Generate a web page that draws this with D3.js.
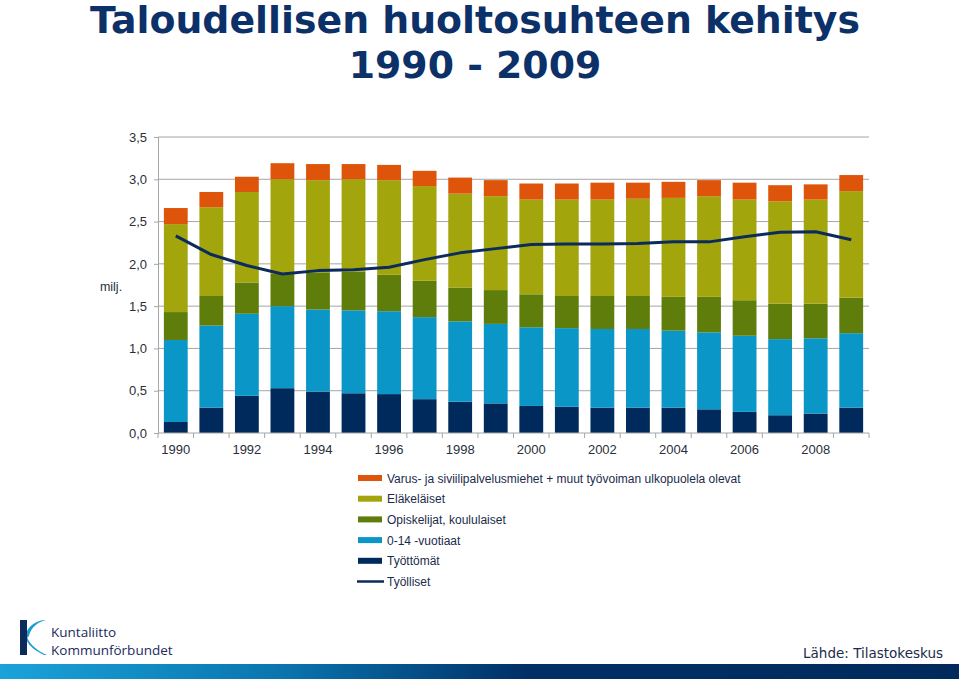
<!DOCTYPE html>
<html><head><meta charset="utf-8">
<script src="https://cdn.jsdelivr.net/npm/d3@7"></script>
<style>
html,body{margin:0;padding:0;background:#fff;}
svg{display:block;}
</style></head>
<body>
<svg id="c" width="959" height="679"></svg>
<script>
const years = [1990,1991,1992,1993,1994,1995,1996,1997,1998,1999,2000,2001,2002,2003,2004,2005,2006,2007,2008,2009];
// stacked segment values (milj.)
const tyottomat   = [0.13,0.30,0.44,0.53,0.49,0.47,0.46,0.40,0.37,0.35,0.32,0.31,0.30,0.30,0.30,0.28,0.25,0.21,0.23,0.30];
const vuotiaat    = [0.97,0.97,0.97,0.97,0.97,0.98,0.98,0.97,0.95,0.94,0.93,0.93,0.93,0.93,0.91,0.91,0.90,0.90,0.89,0.88];
const opiskelijat = [0.33,0.35,0.37,0.38,0.44,0.46,0.43,0.43,0.40,0.40,0.39,0.38,0.39,0.39,0.40,0.42,0.42,0.42,0.41,0.42];
const elakelaiset = [1.04,1.05,1.07,1.12,1.09,1.09,1.12,1.12,1.11,1.11,1.12,1.14,1.14,1.15,1.17,1.19,1.19,1.21,1.23,1.26];
const varus       = [0.19,0.18,0.18,0.19,0.19,0.18,0.18,0.18,0.19,0.19,0.19,0.19,0.20,0.19,0.19,0.19,0.20,0.19,0.18,0.19];
const tyolliset   = [2.33,2.11,1.98,1.88,1.92,1.93,1.96,2.05,2.13,2.18,2.23,2.235,2.235,2.24,2.26,2.26,2.32,2.375,2.38,2.285];
const yTicks = [0,0.5,1,1.5,2,2.5,3,3.5];
const xLabelYears = [1990,1992,1994,1996,1998,2000,2002,2004,2006,2008];

const seriesNames = ["Työttömät","0-14 -vuotiaat","Opiskelijat, koululaiset","Eläkeläiset","Varus- ja siviilipalvelusmiehet + muut työvoiman ulkopuolela olevat"];
const seriesColors = ["#002a5c","#0a96c6","#5f7d0a","#a2a50c","#dd540a"];
const lineName = "Työlliset";
const lineColor = "#0c2b5c";

const svg = d3.select("#c");
const defs = svg.append("defs");

// Title
const titleColor = "#0c3068";
const t1 = svg.append("text").attr("x",475).attr("y",33).attr("text-anchor","middle")
  .attr("font-family","DejaVu Sans").attr("font-weight","bold").attr("font-size",39)
  .attr("fill",titleColor).text("Taloudellisen huoltosuhteen kehitys");
const w = t1.node().getComputedTextLength();
const fs = 39*770/w;
t1.attr("font-size",fs);
svg.append("text").attr("x",475).attr("y",78).attr("text-anchor","middle")
  .attr("font-family","DejaVu Sans").attr("font-weight","bold").attr("font-size",fs)
  .attr("fill",titleColor).text("1990 - 2009");

// Scales
const x = d3.scaleBand().domain(years).range([158,869]).paddingInner(0.33).paddingOuter(0.165);
const y = d3.scaleLinear().domain([0,3.5]).range([433,137]);

// Gridlines
svg.append("g").selectAll("line").data(yTicks.slice(1)).join("line")
  .attr("x1",158).attr("x2",869).attr("y1",d=>y(d)).attr("y2",d=>y(d))
  .attr("stroke","#a6a6a6").attr("stroke-width",1);

// Stack
const data = years.map((yr,i)=>({year:yr, s0:tyottomat[i], s1:vuotiaat[i], s2:opiskelijat[i], s3:elakelaiset[i], s4:varus[i]}));
const stack = d3.stack().keys(["s0","s1","s2","s3","s4"])(data);
svg.append("g").selectAll("g").data(stack).join("g").attr("fill",(d,i)=>seriesColors[i])
  .selectAll("rect").data(d=>d).join("rect")
  .attr("x",d=>x(d.data.year)).attr("width",x.bandwidth())
  .attr("y",d=>y(d[1])).attr("height",d=>y(d[0])-y(d[1]));

// Line
const line = d3.line().x((d,i)=>x(years[i])+x.bandwidth()/2).y(d=>y(d));
svg.append("path").datum(tyolliset).attr("d",line).attr("fill","none")
  .attr("stroke",lineColor).attr("stroke-width",3).attr("stroke-linejoin","round");

// Y axis
const yAxis = d3.axisLeft(y).tickValues(yTicks).tickSize(4).tickFormat(d=>d3.format(".1f")(d).replace(".",","));
const gy = svg.append("g").attr("transform","translate(158,0)").call(yAxis);
gy.select(".domain").attr("stroke","#a6a6a6");
gy.selectAll(".tick line").attr("stroke","#a6a6a6");
gy.selectAll("text").attr("font-family","Liberation Sans, Arial").attr("font-size",13).attr("fill","#2a2f3a").attr("x",-11);

// X axis with ticks on band boundaries
const gx = svg.append("g").attr("transform","translate(0,433)");
gx.append("line").attr("x1",158).attr("x2",869).attr("stroke","#a6a6a6");
const bounds = years.map(yr=>x(yr)-x.step()*x.paddingInner()/2).concat([869]);
gx.selectAll("line.tk").data(bounds).join("line").attr("class","tk")
  .attr("x1",d=>d).attr("x2",d=>d).attr("y1",0).attr("y2",5).attr("stroke","#a6a6a6");
gx.selectAll("text").data(xLabelYears).join("text")
  .attr("x",d=>x(d)+x.bandwidth()/2).attr("y",21).attr("text-anchor","middle")
  .attr("font-family","Liberation Sans, Arial").attr("font-size",13).attr("fill","#2a2f3a").text(d=>d);

// Y label
svg.append("text").attr("x",111).attr("y",291).attr("text-anchor","middle")
  .attr("font-family","Liberation Sans, Arial").attr("font-size",12.5).attr("fill","#2a2f3a").text("milj.");

// Legend
const legendItems = [
  {name:seriesNames[4], color:seriesColors[4], type:"rect"},
  {name:seriesNames[3], color:seriesColors[3], type:"rect"},
  {name:seriesNames[2], color:seriesColors[2], type:"rect"},
  {name:seriesNames[1], color:seriesColors[1], type:"rect"},
  {name:seriesNames[0], color:seriesColors[0], type:"rect"},
  {name:lineName, color:lineColor, type:"line"}
];
const lg = svg.append("g");
legendItems.forEach((it,i)=>{
  const cy = 478 + i*20.7;
  if(it.type==="rect"){
    lg.append("rect").attr("x",358).attr("y",cy-3).attr("width",24).attr("height",6).attr("fill",it.color);
  } else {
    lg.append("line").attr("x1",357).attr("x2",384).attr("y1",cy).attr("y2",cy).attr("stroke",it.color).attr("stroke-width",2.5);
  }
  lg.append("text").attr("x",387).attr("y",cy+4.5).attr("font-family","Liberation Sans, Arial")
    .attr("font-size",12).attr("fill","#1b2b4b").text(it.name);
});

// Bottom gradient band
const grad = defs.append("linearGradient").attr("id","bg").attr("x1","0").attr("x2","1").attr("y1","0").attr("y2","0");
grad.append("stop").attr("offset","0").attr("stop-color","#1aa3d9");
grad.append("stop").attr("offset","0.3").attr("stop-color","#0a73ad");
grad.append("stop").attr("offset","0.55").attr("stop-color","#002f66");
grad.append("stop").attr("offset","1").attr("stop-color","#002a5c");
svg.append("rect").attr("x",0).attr("y",664).attr("width",959).attr("height",15).attr("fill","url(#bg)");

// Source
svg.append("text").attr("x",943).attr("y",658).attr("text-anchor","end")
  .attr("font-family","DejaVu Sans").attr("font-size",13.5).attr("fill","#1b2b4b").text("Lähde: Tilastokeskus");

// Logo
svg.append("rect").attr("x",20).attr("y",620).attr("width",7).attr("height",35).attr("fill","#0c2b5c");
svg.append("path").attr("d","M46,620 C36,621 28,628 27,637 C30,645 38,651 47,655 L44,655 C36,651 29,646 27,641 L27,633 C30,626 37,621 46,620 Z")
  .attr("fill","#1a9bd2");
svg.append("path").attr("d","M46,620 C38,622 31,627 29,636 L27,638 L27,631 C31,624 38,620 46,620 Z").attr("fill","#1a9bd2");
svg.append("text").attr("x",51).attr("y",637).attr("font-family","Open Sans").attr("font-size",13.5).attr("fill","#1b2b5b").text("Kuntaliitto");
svg.append("text").attr("x",51).attr("y",655).attr("font-family","Open Sans").attr("font-size",13.5).attr("fill","#1b2b5b").text("Kommunförbundet");
</script>
</body></html>
